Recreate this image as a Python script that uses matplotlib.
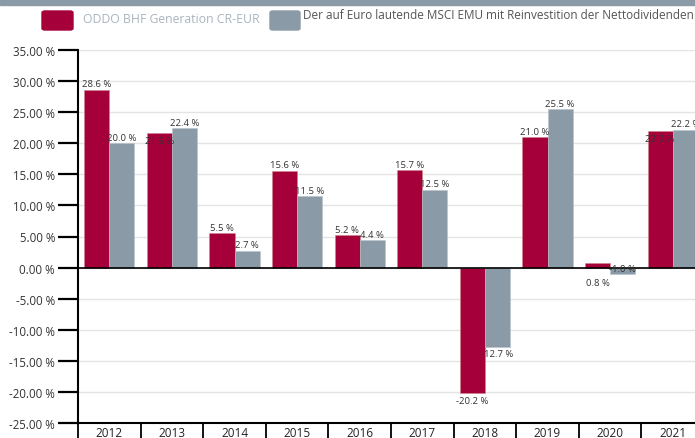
import matplotlib
matplotlib.use("Agg")
import matplotlib.pyplot as plt
from matplotlib.patches import FancyBboxPatch, Rectangle
import numpy as np

plt.rcParams['font.family'] = ['Open Sans', 'DejaVu Sans']

years = ["2012", "2013", "2014", "2015", "2016", "2017", "2018", "2019", "2020", "2021"]
fonds = [28.6, 21.6, 5.5, 15.6, 5.2, 15.7, -20.2, 21.0, 0.8, 22.0]
index = [20.0, 22.4, 2.7, 11.5, 4.4, 12.5, -12.7, 25.5, -1.0, 22.2]
names = ["ODDO BHF Generation CR-EUR",
         "Der auf Euro lautende MSCI EMU mit Reinvestition der Nettodividenden"]

red = "#a5003a"
grey = "#8a9aa7"

W, H = 695, 439
fig = plt.figure(figsize=(W / 100, H / 100), dpi=100)
# axes runs slightly past the right edge like in the original
ax = fig.add_axes([78 / W, 15 / H, 626 / W, 373 / H])

x = np.arange(len(years))
bw = 0.4
ax.bar(x - bw / 2, fonds, bw, color=red, edgecolor="#c88", linewidth=0.4, zorder=3)
ax.bar(x + bw / 2, index, bw, color=grey, edgecolor="#b8c2cc", linewidth=0.4, zorder=3)

ax.set_xlim(-0.5, len(years) - 0.5)
ax.set_ylim(-25, 35)
yt = np.arange(-25, 36, 5)
ax.set_yticks(yt)
ax.set_yticklabels(["%.2f %%" % v for v in yt], fontsize=8.3, color="#333333")
ax.yaxis.grid(True, color="#e4e4e4", linewidth=1, zorder=0)
ax.axhline(0, color="black", linewidth=1.2, zorder=4)
ax.tick_params(axis="y", length=14.5, width=1.6, pad=2, color="black")

# year labels in the middle, long ticks on category borders
ax.set_xticks(x)
ax.set_xticklabels(years, fontsize=8.5, color="#222222")
ax.tick_params(axis="x", length=0, pad=2)
ax.set_xticks(np.arange(-0.5, len(years), 1), minor=True)
ax.tick_params(axis="x", which="minor", length=12, width=1.3, color="black")

for s in ["top", "right"]:
    ax.spines[s].set_visible(False)
ax.spines["left"].set_linewidth(1.5)
ax.spines["bottom"].set_linewidth(1.5)

# value labels; a few are pushed around like in the source chart
tweak = {(0, 1): ("top", -2), (0, 9): ("top", -2), (0, 8): ("top", -11),
         (1, 8): ("center", 4)}
for si, vals in enumerate([fonds, index]):
    off = -bw / 2 if si == 0 else bw / 2
    for i, v in enumerate(vals):
        if (si, i) in tweak:
            va, dy = tweak[(si, i)]
        elif v >= 0:
            va, dy = "bottom", 1
        else:
            va, dy = "top", -2
        ax.annotate("%.1f %%" % v, (x[i] + off, v), xytext=(0, dy),
                    textcoords="offset points", ha="center", va=va,
                    fontsize=6.8, color="#333333", zorder=5)

# top strip and legend
fig.patches.append(Rectangle((0, 1 - 6 / H), 1, 6 / H, transform=fig.transFigure,
                             color="#8a9aa7"))
fig.patches.append(FancyBboxPatch((42 / W, 1 - 31 / H), 31 / W, 19 / H,
                                  boxstyle="round,pad=0,rounding_size=0.004",
                                  transform=fig.transFigure, color=red))
fig.patches.append(FancyBboxPatch((270 / W, 1 - 31 / H), 30 / W, 19 / H,
                                  boxstyle="round,pad=0,rounding_size=0.004",
                                  transform=fig.transFigure, color=grey))
fig.text(83 / W, 1 - 19.5 / H, names[0], fontsize=8.8, color="#aab4be", va="center")
fig.text(303 / W, 1 - 15.5 / H, names[1], fontsize=8.45, color="#555555", va="center")

fig.savefig("out.png", dpi=100)
